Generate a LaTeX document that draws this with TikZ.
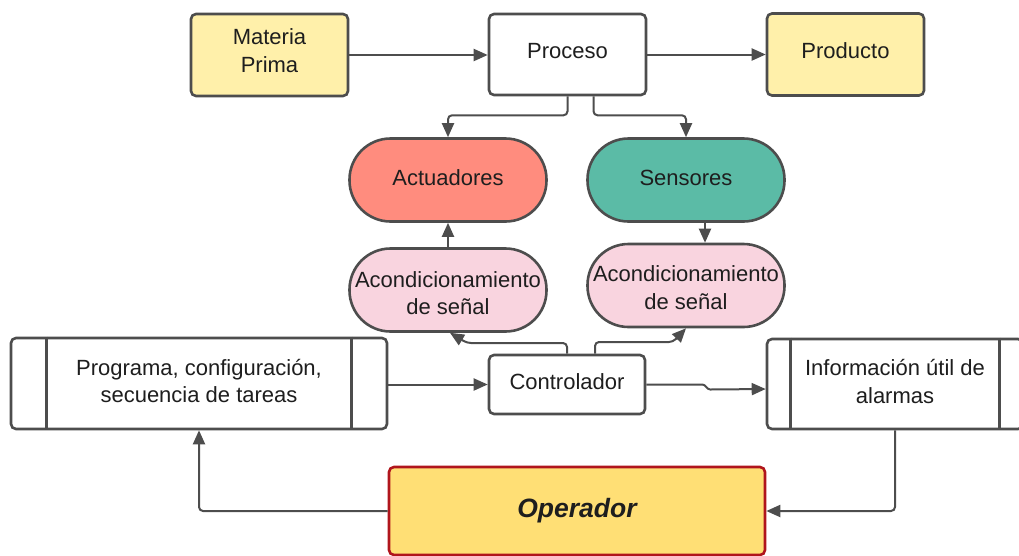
\documentclass[tikz,border=0pt]{standalone}
\usepackage{fontspec}
\setmainfont{Liberation Sans}
\usetikzlibrary{arrows.meta}
\definecolor{ln}{HTML}{4D4D4D}
\definecolor{txt}{HTML}{1E1E1E}
\definecolor{ylw}{HTML}{FFF0AA}
\definecolor{salmon}{HTML}{FF8C7E}
\definecolor{teal}{HTML}{5BBBA6}
\definecolor{pink}{HTML}{F9D4DF}
\definecolor{opfill}{HTML}{FFDF75}
\definecolor{opline}{HTML}{B0151C}
\begin{document}
\begin{tikzpicture}[x=1pt,y=-1pt,
  font=\fontsize{22}{27.5}\selectfont,
  box/.style={draw=ln, line width=2.6pt, rounded corners=5pt, inner sep=0pt},
  pill/.style={box, rounded corners=41pt, minimum width=197pt, minimum height=83pt},
  lbl/.style={align=center, inner sep=0pt, text=txt},
  arr/.style={draw=ln, line width=2pt, rounded corners=4pt,
              -{Triangle[length=14pt,width=12pt]}},
  sep/.style={draw=ln, line width=2.6pt},
]
\useasboundingbox (0,0) rectangle (1019,555);

% top row
\node[box, fill=ylw, minimum width=157pt, minimum height=82pt] (mp) at (269.5,55) {};
\node[box, fill=white, minimum width=157pt, minimum height=81pt] (proc) at (567.5,54.5) {};
\node[box, fill=ylw, minimum width=157pt, minimum height=82pt] (prod) at (845.5,54.5) {};
\node[lbl, yshift=4.5pt] (mpt) at (mp) {Materia\\Prima};
\node[lbl, yshift=3.5pt] (proct) at (proc) {Proceso};
\node[lbl, yshift=3.5pt] (prodt) at (prod) {Producto};

% actuators and sensors
\node[pill, fill=salmon] (act) at (448,180) {};
\node[pill, fill=teal] (sen) at (686,180) {};
\node[lbl, yshift=2pt] (actt) at (act) {Actuadores};
\node[lbl, yshift=2pt] (sent) at (sen) {Sensores};

% signal conditioning
\node[pill, fill=pink] (acL) at (448,290) {};
\node[pill, fill=pink] (acR) at (686,285.5) {};
\node[lbl, yshift=-3pt] (acLt) at (acL) {Acondicionamiento\\de señal};
\node[lbl, yshift=-2pt] (acRt) at (acR) {Acondicionamiento\\de señal};

% controller row
\node[box, fill=white, minimum width=156pt, minimum height=59pt] (ctrl) at (567,384.5) {};
\node[box, fill=white, minimum width=376pt, minimum height=91pt] (prog) at (199,383.5) {};
\node[box, fill=white, minimum width=256pt, minimum height=90pt] (info) at (895,384) {};
\draw[sep] ([xshift=37pt]prog.north west) -- ([xshift=37pt]prog.south west);
\draw[sep] ([xshift=-37pt]prog.north east) -- ([xshift=-37pt]prog.south east);
\draw[sep] ([xshift=25pt]info.north west) -- ([xshift=25pt]info.south west);
\draw[sep] ([xshift=-25pt]info.north east) -- ([xshift=-25pt]info.south east);
\node[lbl, yshift=2.5pt] (ctrlt) at (ctrl) {Controlador};
\node[lbl, yshift=2.5pt] (progt) at (prog) {Programa, configuración,\\secuencia de tareas};
\node[lbl, yshift=2.5pt] (infot) at (info) {Información útil de\\alarmas};

% operator
\node[box, draw=opline, fill=opfill, minimum width=376pt, minimum height=88pt] (oper) at (577,511) {};
\node[lbl, font=\fontsize{26.5}{30}\selectfont\bfseries\itshape] (opert) at (oper) {Operador};

% connectors
\draw[arr] (mp.east) -- (mp.east -| proc.west);
\draw[arr] (proc.east) -- (proc.east -| prod.west);
\draw[arr] (proc.south) -- ++(0,19) -| (act.north);
\draw[arr] ([xshift=26pt]proc.south) -- ++(0,19) -| (sen.north);
\draw[arr] ([xshift=19pt]sen.south) -- ([xshift=19pt]sen.south |- acR.north);
\draw[arr] (acL.north) -- (act.south);
\draw[arr] (ctrl.north) |- (467,343) -- ([xshift=2pt]acL.south);
\draw[arr] ([xshift=28pt]ctrl.north) |- (673,342) -- (acR.south);
\draw[arr] (prog.east |- ctrl.west) -- (ctrl.west);
\draw[arr, rounded corners=0pt] (ctrl.east) -- ++(56,0) to[out=0,in=180] ++(8,5)
  -- ([yshift=-5pt]info.west);
\draw[arr] (oper.west) -| (prog.south);
\draw[arr] (info.south) |- (oper.east);
\end{tikzpicture}
\end{document}
